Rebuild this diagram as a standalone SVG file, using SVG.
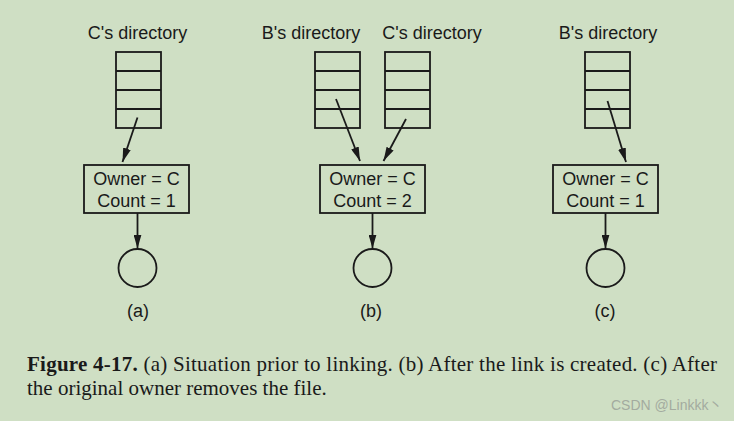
<svg xmlns="http://www.w3.org/2000/svg" width="734" height="421" viewBox="0 0 734 421">
<style>
.bg{fill:#cfdfc4}
.ln{fill:none;stroke:#1a1a1a;stroke-width:1.8}
.t{font-family:"Liberation Sans",Arial,sans-serif;font-size:18px;fill:#1a1a1a;text-anchor:middle}
.cap{font-family:"Liberation Serif","Times New Roman",serif;font-size:21px;fill:#1a1a1a}
.wm{font-family:"Liberation Sans","Noto Sans CJK SC",sans-serif;font-size:14px;fill:#a3ab9f}
</style>
<defs>
<marker id="ah" viewBox="0 0 14 8" refX="14" refY="4" markerWidth="14" markerHeight="8" markerUnits="userSpaceOnUse" orient="auto">
<path d="M0,0 L14,4 L0,8 Z" fill="#1a1a1a"/>
</marker>
<g id="dir">
<rect x="0" y="0" width="45" height="76" class="ln"/>
<path d="M0,19H45M0,38H45M0,57H45" class="ln"/>
</g>
</defs>
<rect class="bg" x="0" y="0" width="734" height="421"/>

<g id="a">
<text class="t" x="137.5" y="39">C's directory</text>
<use href="#dir" x="116" y="52"/>
<rect class="ln" x="84" y="165" width="105" height="48"/>
<text class="t" x="136.5" y="185">Owner = C</text>
<text class="t" x="136.5" y="207">Count = 1</text>
<circle class="ln" cx="137.5" cy="268" r="19"/>
<text class="t" x="138" y="317">(a)</text>
</g>

<g id="b">
<text class="t" x="311" y="39">B's directory</text>
<text class="t" x="432" y="39">C's directory</text>
<use href="#dir" x="315" y="52"/>
<use href="#dir" x="385" y="52"/>
<rect class="ln" x="320" y="165" width="105" height="48"/>
<text class="t" x="372.5" y="185">Owner = C</text>
<text class="t" x="372.5" y="207">Count = 2</text>
<circle class="ln" cx="372.5" cy="268" r="19"/>
<text class="t" x="371" y="317">(b)</text>
</g>

<g id="c">
<text class="t" x="608" y="39">B's directory</text>
<use href="#dir" x="585" y="52"/>
<rect class="ln" x="553" y="165" width="105" height="48"/>
<text class="t" x="605.5" y="185">Owner = C</text>
<text class="t" x="605.5" y="207">Count = 1</text>
<circle class="ln" cx="605.5" cy="268" r="19"/>
<text class="t" x="605" y="317">(c)</text>
</g>

<g id="connectors" class="ln" marker-end="url(#ah)">
<line x1="137.5" y1="117.5" x2="122.5" y2="162"/>
<line x1="137.5" y1="213" x2="137.5" y2="248.5"/>
<line x1="336" y1="99" x2="360" y2="161"/>
<line x1="406" y1="119" x2="383.5" y2="161"/>
<line x1="372.5" y1="213" x2="372.5" y2="248.5"/>
<line x1="607.5" y1="101" x2="626" y2="162"/>
<line x1="605.5" y1="213" x2="605.5" y2="248.5"/>
</g>

<text class="cap" x="27" y="371" textLength="690" lengthAdjust="spacing"><tspan font-weight="bold">Figure 4-17.</tspan> (a) Situation prior to linking. (b) After the link is created. (c) After</text>
<text class="cap" x="27" y="395">the original owner removes the file.</text>
<text class="wm" x="611" y="410">CSDN @Linkkk丶</text>
</svg>
